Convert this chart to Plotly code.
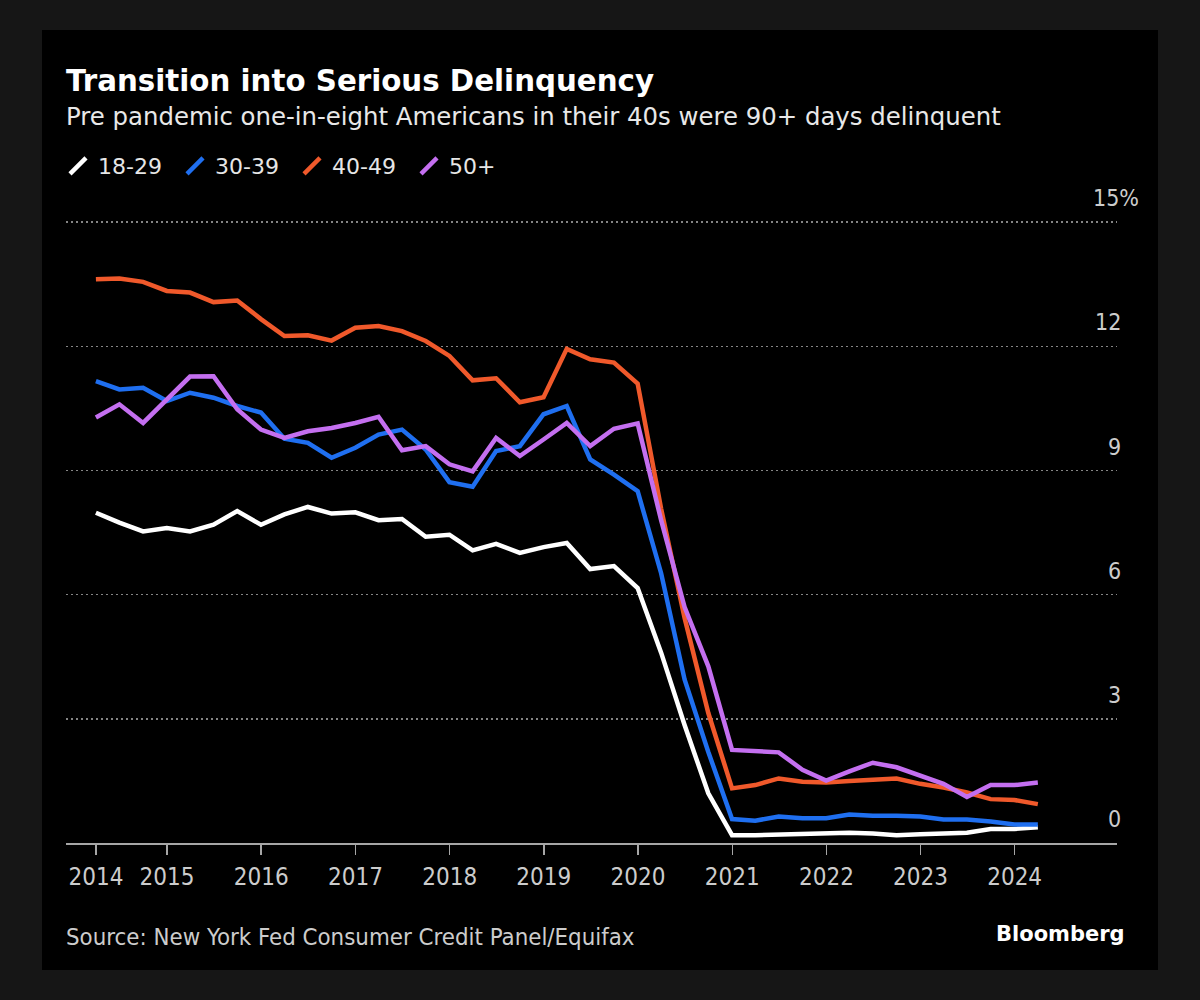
import plotly.graph_objects as go

# ---------------- data (quarterly, % transitioning into 90+ days delinquency) ----------------
quarter_ends = ["03-31", "06-30", "09-30", "12-31"]
dates = [f"{2014 + i // 4}-{quarter_ends[i % 4]}" for i in range(41)]

age_18_29 = [7.98, 7.74, 7.53, 7.61, 7.53, 7.69, 8.02, 7.69, 7.94, 8.12, 7.96,
             7.99, 7.80, 7.83, 7.40, 7.45, 7.07, 7.23, 7.01, 7.15, 7.25, 6.62,
             6.69, 6.16, 4.60, 2.85, 1.20,
             0.19, 0.19, 0.21, 0.23, 0.25, 0.25, 0.23, 0.19, 0.21, 0.23, 0.25, 0.34, 0.34, 0.38]
age_30_39 = [11.16, 10.96, 11.00, 10.68, 10.88, 10.76, 10.56, 10.40, 9.77, 9.67, 9.31,
             9.55, 9.87, 9.99, 9.51, 8.72, 8.61, 9.47, 9.59, 10.36, 10.56, 9.27,
             8.90, 8.50, 6.52, 3.95, 2.20,
             0.58, 0.54, 0.64, 0.60, 0.60, 0.69, 0.66, 0.66, 0.64, 0.57, 0.57, 0.52, 0.45, 0.45]
age_40_49 = [13.62, 13.64, 13.56, 13.34, 13.30, 13.07, 13.11, 12.66, 12.25, 12.27, 12.14,
             12.45, 12.49, 12.37, 12.13, 11.77, 11.18, 11.23, 10.65, 10.77, 11.94, 11.69,
             11.61, 11.10, 8.08, 5.44, 3.14,
             1.32, 1.40, 1.56, 1.48, 1.46, 1.50, 1.52, 1.56, 1.43, 1.34, 1.22, 1.06, 1.04, 0.94]
age_50_plus = [10.28, 10.60, 10.15, 10.72, 11.27, 11.28, 10.48, 9.99, 9.79, 9.95, 10.03,
               10.15, 10.30, 9.49, 9.59, 9.15, 8.98, 9.79, 9.35, 9.75, 10.15, 9.59,
               10.01, 10.14, 7.80, 5.70, 4.27,
               2.25, 2.23, 2.19, 1.77, 1.51, 1.73, 1.94, 1.83, 1.62, 1.43, 1.11, 1.40, 1.40, 1.46]

series_names = ["18-29", "30-39", "40-49", "50+"]
series_values = [age_18_29, age_30_39, age_40_49, age_50_plus]
series_colors = ["#ffffff", "#1f6ff0", "#f0592b", "#c46ff0"]

x_tick_vals = ["2014-03-31", "2015-01-01", "2016-01-01", "2017-01-01", "2018-01-01",
               "2019-01-01", "2020-01-01", "2021-01-01", "2022-01-01", "2023-01-01", "2024-01-01"]
x_tick_text = ["2014", "2015", "2016", "2017", "2018", "2019", "2020", "2021", "2022", "2023", "2024"]
y_tick_vals = [0, 3, 6, 9, 12, 15]
y_tick_text = ["0", "3", "6", "9", "12", "15%"]

title = "Transition into Serious Delinquency"
subtitle = "Pre pandemic one-in-eight Americans in their 40s were 90+ days delinquent"
source = "Source: New York Fed Consumer Credit Panel/Equifax"

# ---------------- layout geometry (pixels) ----------------
W_FIG, H_FIG = 1200, 1000
L, R, T, B = 66, 1117, 221, 843
PW, PH = R - L, B - T


def px_x(p):
    return (p - L) / PW


def px_y(p):
    return (B - p) / PH


REG = "DejaVu Sans"
COND = "DejaVu Sans Condensed, DejaVu Sans"
TICK_COLOR = "#cccccc"

fig = go.Figure()

# main lines (draw order: white, blue, orange, purple)
for name, vals, col in zip(series_names, series_values, series_colors):
    fig.add_trace(go.Scatter(x=dates, y=vals, mode="lines", name=name,
                             line=dict(color=col, width=4.5), showlegend=False,
                             hoverinfo="skip"))

# legend entries with slanted-slash symbols
for name, col in zip(series_names, series_colors):
    fig.add_trace(go.Scatter(x=[None], y=[None], mode="markers", name=name,
                             marker=dict(symbol="line-ne", size=16, color=col,
                                         line=dict(width=4.5, color=col)),
                             showlegend=True))

annotations = [
    dict(text=f"<b>{title}</b>", x=px_x(64), y=px_y(81), xref="paper", yref="paper",
         xanchor="left", yanchor="middle", showarrow=False,
         font=dict(family=REG, size=29.3, color="#ffffff")),
    dict(text=subtitle, x=px_x(64), y=px_y(117), xref="paper", yref="paper",
         xanchor="left", yanchor="middle", showarrow=False,
         font=dict(family=REG, size=24.4, color="#e8e8e8")),
    dict(text=source, x=px_x(64), y=px_y(937), xref="paper", yref="paper",
         xanchor="left", yanchor="middle", showarrow=False,
         font=dict(family=COND, size=23.8, color=TICK_COLOR)),
    dict(text="<b>Bloomberg</b>", x=px_x(1127), y=px_y(934), xref="paper", yref="paper",
         xanchor="right", yanchor="middle", showarrow=False,
         font=dict(family=REG, size=21, color="#ffffff")),
]
for v, t in zip(y_tick_vals, y_tick_text):
    if t.endswith("%"):
        pos = dict(x=px_x(1091), xanchor="left")
    else:
        pos = dict(x=px_x(1123), xanchor="right")
    annotations.append(dict(text=t, y=v, xref="paper", yref="y",
                            yanchor="middle", yshift=24, showarrow=False,
                            font=dict(family=COND, size=23, color=TICK_COLOR), **pos))

fig.update_layout(
    width=W_FIG, height=H_FIG,
    margin=dict(l=L, r=W_FIG - R, t=T, b=H_FIG - B, pad=0),
    paper_bgcolor="#161616",
    plot_bgcolor="rgba(0,0,0,0)",
    shapes=[dict(type="rect", xref="paper", yref="paper",
                 x0=px_x(42), x1=px_x(1158), y0=px_y(970), y1=px_y(30),
                 fillcolor="#000000", line=dict(width=0), layer="below")],
    annotations=annotations,
    showlegend=True,
    legend=dict(orientation="h", x=px_x(58), y=px_y(166), xanchor="left", yanchor="middle",
                bgcolor="rgba(0,0,0,0)", font=dict(family=REG, size=22, color="#e6e6e6"),
                entrywidth=72, entrywidthmode="pixels",
                itemclick=False, itemdoubleclick=False),
    xaxis=dict(type="date", range=["2013-12-05", "2025-02-01"],
               tickmode="array", tickvals=x_tick_vals, ticktext=x_tick_text,
               showgrid=False, zeroline=False,
               showline=True, linecolor="#a6a6a6", linewidth=1.5,
               ticks="outside", ticklen=10, tickwidth=1.5, tickcolor="#a6a6a6",
               ticklabelstandoff=2,
               tickfont=dict(family=COND, size=24, color=TICK_COLOR)),
    yaxis=dict(range=[0, 15.03], tickmode="array", tickvals=y_tick_vals,
               showticklabels=False, ticks="",
               showgrid=True, gridcolor="#858585", gridwidth=1.5, griddash="2px,3px",
               zeroline=False, showline=False),
)

fig.write_html("out.html",
               config={"displayModeBar": False, "staticPlot": True},
               post_script="document.body.style.margin='0px';document.body.style.overflow='hidden';")
